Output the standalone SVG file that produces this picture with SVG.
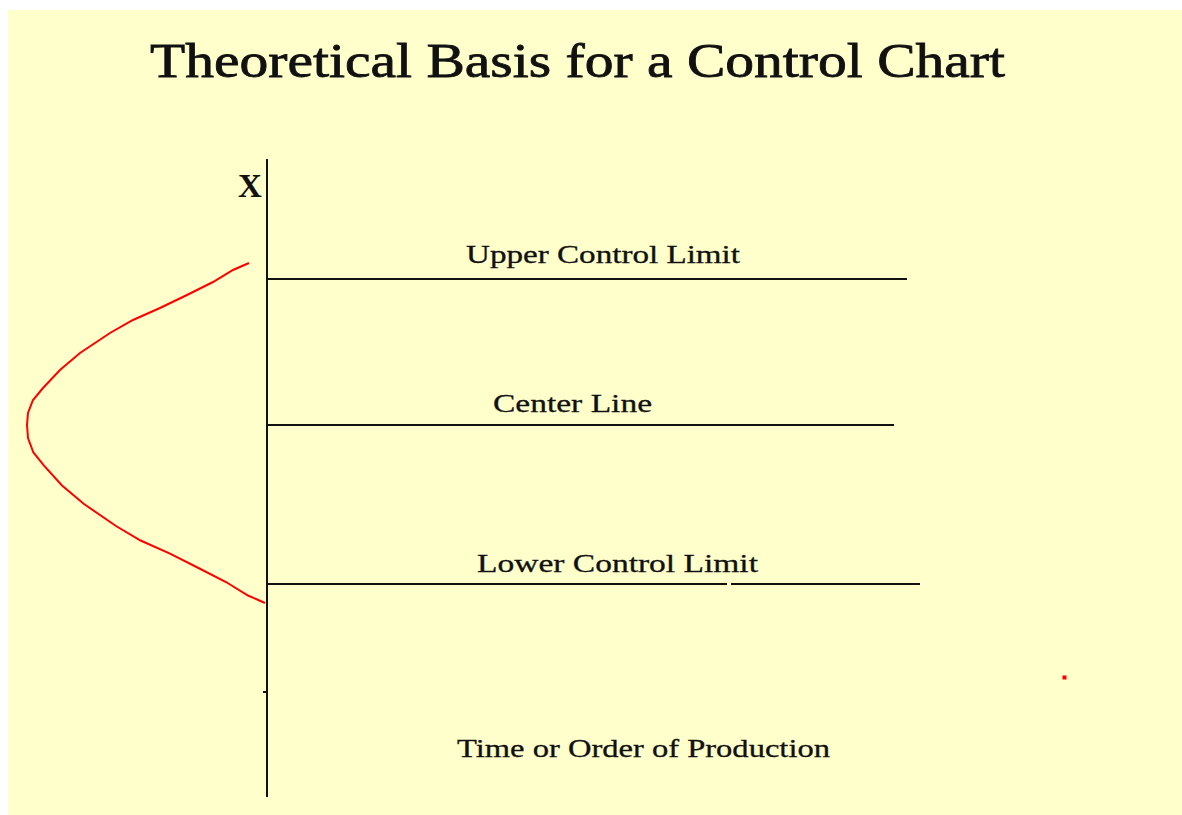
<svg xmlns="http://www.w3.org/2000/svg" width="1182" height="815" viewBox="0 0 1182 815">
<style>
.ln{stroke:#111;stroke-width:2;fill:none}
.lbl{font-family:"Liberation Serif","Times New Roman",serif;font-size:25px;fill:#111;stroke:#111;stroke-width:0.3}
.ttl{font-family:"Liberation Serif","Times New Roman",serif;font-size:49px;fill:#111;stroke:#111;stroke-width:0.8}
</style>
<rect width="1182" height="815" fill="#ffffff"/>
<rect x="8" y="10" width="1174" height="805" fill="#ffffcc"/>
<g id="title"><text class="ttl" x="150" y="77" textLength="855" lengthAdjust="spacingAndGlyphs">Theoretical Basis for a Control Chart</text></g>
<g id="axis">
<line class="ln" x1="267" y1="159" x2="267" y2="797"/>
<line class="ln" x1="263" y1="692" x2="267" y2="692"/>
<text x="238" y="197" style="font-family:'Liberation Serif',serif;font-size:33px;font-weight:bold;fill:#111">X</text>
</g>
<g id="distribution">
<polyline fill="none" stroke="#ff0000" stroke-width="2" points="249,263 233,270 213,282 187,295 160,308 133,320 110,333 80,353 60,370 43,388 33,400 28,413 27,425 28,438 33.4,452.5 44,465.7 62,485.5 84,504 116,526 140.6,540.5 170,553.7 198.5,568 226,582 248,595.5 265,603"/>
<rect x="1062.5" y="675.5" width="4" height="4" fill="#ff0000"/>
</g>
<g id="ucl">
<line class="ln" x1="267" y1="279" x2="907" y2="279"/>
<text class="lbl" x="466" y="263" textLength="274" lengthAdjust="spacingAndGlyphs">Upper Control Limit</text>
</g>
<g id="cl">
<line class="ln" x1="267" y1="425" x2="894" y2="425"/>
<text class="lbl" x="493" y="412" textLength="159" lengthAdjust="spacingAndGlyphs">Center Line</text>
</g>
<g id="lcl">
<line class="ln" x1="267" y1="584" x2="727" y2="584"/>
<line class="ln" x1="731" y1="584" x2="920" y2="584"/>
<text class="lbl" x="477" y="572" textLength="281" lengthAdjust="spacingAndGlyphs">Lower Control Limit</text>
</g>
<g id="xaxis-label">
<text class="lbl" x="457" y="757" textLength="373" lengthAdjust="spacingAndGlyphs">Time or Order of Production</text>
</g>
</svg>
